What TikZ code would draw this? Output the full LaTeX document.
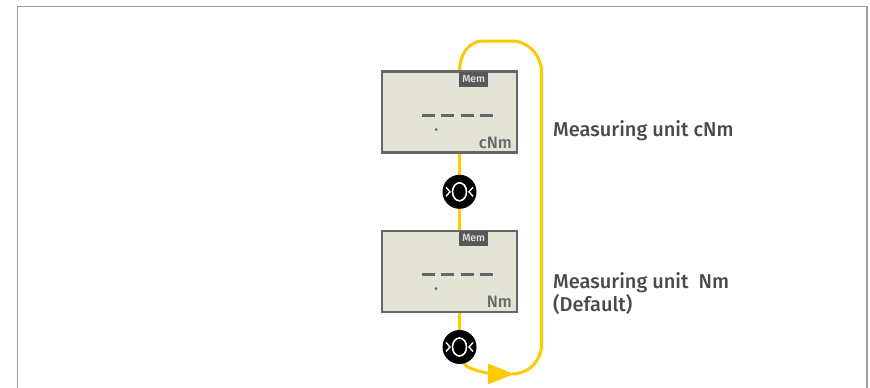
\documentclass[tikz,border=0pt]{standalone}
\usepackage{fontspec}
\setmainfont{Fira Sans}[UprightFont=* Medium]
\usetikzlibrary{positioning,arrows.meta,backgrounds,calc}
\definecolor{loopyellow}{HTML}{FFC800}
\definecolor{lcdgrey}{HTML}{666666}
\definecolor{lcdfill}{HTML}{E3E4D6}
\definecolor{memgrey}{HTML}{58585A}
\definecolor{labelgrey}{HTML}{4A4A4C}
\tikzstyle{lcdbox}=[rectangle, draw=lcdgrey, fill=lcdfill, line width=2.2pt, minimum width=135pt, minimum height=81pt, inner sep=0pt]
\tikzstyle{membox}=[rectangle, fill=memgrey, text=white!90!black, font=\fontsize{10.5}{10.5}\selectfont, minimum width=29pt, minimum height=15pt, inner sep=0pt]
\tikzstyle{unitlabel}=[text=lcdgrey, font=\fontsize{16.5}{16.5}\selectfont, inner sep=0pt]
\tikzstyle{okbtn}=[circle, fill=black, minimum size=34pt, inner sep=0pt]
\tikzstyle{pline}=[-, draw=loopyellow, line width=3pt]
\tikzstyle{sideline}=[text=labelgrey, font=\fontsize{20}{23}\selectfont, align=left, inner sep=0pt]
\tikzstyle{lcddash}=[draw=lcdgrey, line width=3pt, dash pattern=on 13pt off 6.3pt]
\begin{document}
\begin{tikzpicture}[x=1pt,y=-1pt,node distance=0pt]
\useasboundingbox (0,0) rectangle (870,388);
\draw[draw=black!38, line width=1.6pt] (17.5,388) |- (867,6.5) -- (867,388);
\node (box1) [lcdbox] at (449.5,112) {};
\node (mem1) [membox,below right=1pt and 9.5pt of box1.north] {Mem};
\node (unit1) [unitlabel,above left=5pt and 6pt of box1.south east] {cNm};
\node (O1) [okbtn,below=21pt of box1.south,xshift=10pt] {};
\node (box2) [lcdbox,below=76pt of box1] {};
\node (mem2) [membox,below right=1pt and 9.5pt of box2.north] {Mem};
\node (unit2) [unitlabel,above left=5pt and 6pt of box2.south east] {Nm};
\node (O2) [okbtn,below=17pt of box2.south,xshift=10pt] {};
\node (lab1) [sideline,anchor=base west] at (553,136) {Measuring unit cNm};
\node (lab2) [sideline,anchor=north west] at (553,272) {Measuring unit\ \ Nm\\(Default)};
\coordinate (tip) at (512,374);
\coordinate (loopE1) at (541.5,345);
\coordinate (loopE2) at (541.5,72);
\coordinate (loopN1) at (511,41);
\coordinate (loopN2) at (483,41);
\begin{scope}[on background layer]
 \draw[pline] (box1.south -| O1) -- (box2.north -| O1);
 \draw[pline] (box2.south -| O2) -- (O2);
 \draw[pline] (tip) to[out=0,in=-90] (loopE1) -- (loopE2) to[out=90,in=0] (loopN1) -- (loopN2) to[out=180,in=90] (box1.north -| O1);
 \draw[pline,-{Triangle[length=26pt,width=20pt]}] (O2.south) ++(4pt,1pt) .. controls +(6pt,-9pt) and +(-14pt,0pt) .. ($(tip)+(2pt,0pt)$);
\end{scope}
\foreach \b/\o in {box1/O1,box2/O2}{
 \draw[lcddash] ($(\b.center)+(-27.5pt,-3pt)$) -- ($(\b.center)+(44pt,-3pt)$);
 \fill[lcdgrey] ($(\b.center)+(-13.5pt,-17.5pt)$) circle (1.5pt);
 \draw[white,line width=1.6pt] (\o) ellipse (7pt and 9pt);
 \draw[white,line width=1.4pt] ($(\o)+(-13.5pt,-4.5pt)$) -- ($(\o)+(-9.5pt,0pt)$) -- ($(\o)+(-13.5pt,4.5pt)$);
 \draw[white,line width=1.4pt] ($(\o)+(13.5pt,-4.5pt)$) -- ($(\o)+(9.5pt,0pt)$) -- ($(\o)+(13.5pt,4.5pt)$);
}
\end{tikzpicture}
\end{document}
